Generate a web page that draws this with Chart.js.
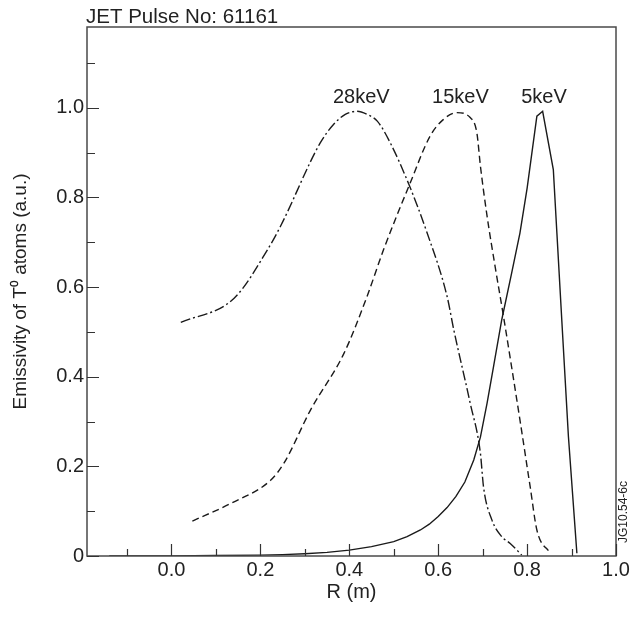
<!DOCTYPE html>
<html>
<head>
<meta charset="utf-8">
<script src="https://cdn.jsdelivr.net/npm/chart.js@4/dist/chart.umd.min.js"></script>
<style>
  html, body { margin: 0; padding: 0; background: #fff; }
  #wrap { width: 632px; height: 617px; position: relative; }
</style>
</head>
<body>
<div id="wrap"><canvas id="c" width="632" height="617"></canvas></div>
<script>
// ---- data ----
const r5  = [-0.14, 0.0, 0.1, 0.2, 0.25, 0.3, 0.35, 0.4, 0.45, 0.5, 0.53, 0.56, 0.58, 0.60, 0.62, 0.64, 0.66, 0.68, 0.695, 0.71, 0.725, 0.743, 0.765, 0.784, 0.80, 0.822, 0.835, 0.859, 0.867, 0.878, 0.893, 0.912];
const e5  = [0, 0, 0.001, 0.002, 0.003, 0.005, 0.008, 0.013, 0.021, 0.032, 0.043, 0.058, 0.071, 0.088, 0.108, 0.133, 0.165, 0.214, 0.265, 0.341, 0.425, 0.527, 0.63, 0.721, 0.82, 0.981, 0.992, 0.862, 0.721, 0.527, 0.266, 0.006];

const r15 = [0.047, 0.133, 0.223, 0.253, 0.313, 0.388, 0.44, 0.477, 0.537, 0.582, 0.612, 0.642, 0.672, 0.687, 0.695, 0.710, 0.728, 0.747, 0.784, 0.807, 0.822, 0.852];
const e15 = [0.078, 0.117, 0.169, 0.207, 0.326, 0.452, 0.579, 0.683, 0.832, 0.937, 0.974, 0.989, 0.978, 0.944, 0.870, 0.758, 0.646, 0.534, 0.303, 0.154, 0.058, 0.006];

const r28 = [0.021, 0.141, 0.216, 0.245, 0.335, 0.365, 0.391, 0.418, 0.44, 0.463, 0.492, 0.534, 0.575, 0.62, 0.635, 0.672, 0.695, 0.702, 0.721, 0.743, 0.762, 0.788];
const e28 = [0.521, 0.575, 0.683, 0.735, 0.922, 0.963, 0.985, 0.992, 0.985, 0.970, 0.922, 0.829, 0.721, 0.579, 0.505, 0.341, 0.229, 0.154, 0.080, 0.043, 0.028, 0.002];

const seriesNames = ['5keV', '15keV', '28keV'];
const labelX = [0.838, 0.650, 0.427];
const labelY = [1.023, 1.023, 1.023];

const xMajor = [0.0, 0.2, 0.4, 0.6, 0.8, 1.0];
const xMinor = [-0.1, 0.1, 0.3, 0.5, 0.7, 0.9];
const yMajor = [0.0, 0.2, 0.4, 0.6, 0.8, 1.0];
const yMinor = [0.1, 0.3, 0.5, 0.7, 0.9, 1.1];

const titleText = 'JET Pulse No: 61161';
const xTitle = 'R (m)';
const yTitle = 'Emissivity of T\u2070 atoms (a.u.)';
const refText = 'JG10.54-6c';

// ---- build ----
const FONT = "'Liberation Sans', Arial, Helvetica, sans-serif";
const TXT = '#222';
const toXY = (xs, ys) => xs.map((v, i) => ({ x: v, y: ys[i] }));

const decor = {
  id: 'decor',
  afterDraw(chart) {
    const { ctx, chartArea: a, scales: { x, y } } = chart;
    ctx.save();
    // frame
    ctx.strokeStyle = '#4a4a4a';
    ctx.lineWidth = 1.5;
    ctx.strokeRect(a.left, a.top, a.right - a.left, a.bottom - a.top);
    // inward ticks
    ctx.strokeStyle = '#333';
    ctx.lineWidth = 1.2;
    ctx.beginPath();
    xMajor.forEach(v => { const p = Math.round(x.getPixelForValue(v)) + 0.5; ctx.moveTo(p, a.bottom); ctx.lineTo(p, a.bottom - 12); });
    xMinor.forEach(v => { const p = Math.round(x.getPixelForValue(v)) + 0.5; ctx.moveTo(p, a.bottom); ctx.lineTo(p, a.bottom - 7); });
    yMajor.forEach(v => { const p = Math.round(y.getPixelForValue(v)) + 0.5; ctx.moveTo(a.left, p); ctx.lineTo(a.left + 12, p); });
    yMinor.forEach(v => { const p = Math.round(y.getPixelForValue(v)) + 0.5; ctx.moveTo(a.left, p); ctx.lineTo(a.left + 8, p); });
    ctx.stroke();
    // curve labels
    ctx.fillStyle = TXT;
    ctx.font = '20px ' + FONT;
    ctx.textAlign = 'center';
    ctx.textBaseline = 'middle';
    seriesNames.forEach((n, i) => {
      ctx.fillText(n, x.getPixelForValue(labelX[i]), y.getPixelForValue(labelY[i]));
    });
    // title
    ctx.textAlign = 'left';
    ctx.textBaseline = 'alphabetic';
    ctx.font = '20.5px ' + FONT;
    ctx.fillText(titleText, a.left - 1, 23);
    // reference code
    ctx.save();
    ctx.translate(a.right + 8, a.bottom - 44);
    ctx.rotate(-Math.PI / 2);
    ctx.font = '12px ' + FONT;
    ctx.textAlign = 'center';
    ctx.textBaseline = 'middle';
    ctx.fillText(refText, 0, 0);
    ctx.restore();
    ctx.restore();
  }
};

new Chart(document.getElementById('c'), {
  type: 'line',
  data: {
    datasets: [
      { label: seriesNames[0], data: toXY(r5, e5), borderColor: '#1a1a1a', borderWidth: 1.4, borderDash: [], pointRadius: 0, fill: false, tension: 0 },
      { label: seriesNames[1], data: toXY(r15, e15), borderColor: '#1a1a1a', borderWidth: 1.4, borderDash: [7, 4], pointRadius: 0, fill: false, cubicInterpolationMode: 'monotone' },
      { label: seriesNames[2], data: toXY(r28, e28), borderColor: '#1a1a1a', borderWidth: 1.4, borderDash: [10, 3, 2, 3], pointRadius: 0, fill: false, cubicInterpolationMode: 'monotone' }
    ]
  },
  options: {
    responsive: false,
    animation: false,
    devicePixelRatio: 1,
    layout: { padding: { top: 27, right: 16, left: 0, bottom: 0 } },
    plugins: { legend: { display: false }, tooltip: { enabled: false }, title: { display: false } },
    scales: {
      x: {
        type: 'linear', min: -0.19, max: 1.0,
        afterBuildTicks: s => { s.ticks = xMajor.map(v => ({ value: v })); },
        afterFit: s => { s.height = 61; },
        grid: { display: false, drawTicks: false },
        border: { display: false },
        ticks: { padding: 2, color: TXT, font: { family: FONT, size: 20 }, maxRotation: 0, callback: v => v.toFixed(1) },
        title: { display: true, text: xTitle, color: TXT, font: { family: FONT, size: 20 }, padding: { top: 0, bottom: 13 } }
      },
      y: {
        type: 'linear', min: 0, max: 1.18,
        afterBuildTicks: s => { s.ticks = yMajor.map(v => ({ value: v })); },
        afterFit: s => { s.width = 87; },
        grid: { display: false, drawTicks: false },
        border: { display: false },
        ticks: { padding: 3, color: TXT, font: { family: FONT, size: 20 }, callback: v => (v === 0 ? '0' : v.toFixed(1)) },
        title: { display: true, text: yTitle, color: TXT, font: { family: FONT, size: 19 }, padding: { top: 9, bottom: 0 } }
      }
    }
  },
  plugins: [decor]
});
</script>
</body>
</html>
